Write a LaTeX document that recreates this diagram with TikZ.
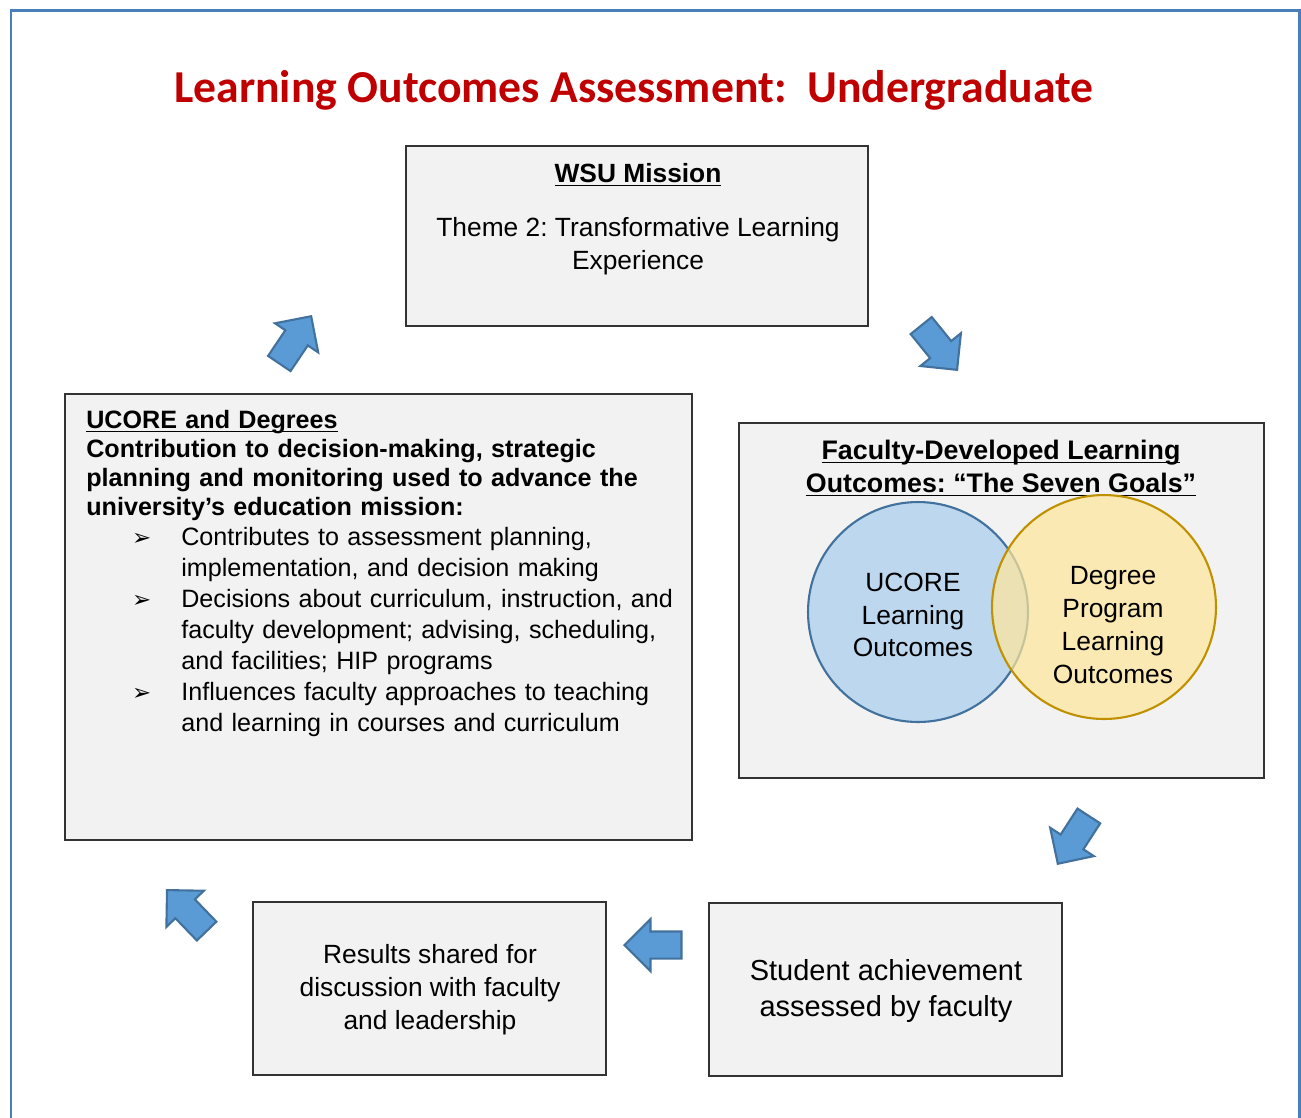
\documentclass[tikz,border=0pt]{standalone}
\usepackage{fontspec}
\setmainfont{Liberation Sans}
\newfontfamily\titlefont{Carlito}
\newfontfamily\symfont{DejaVu Sans}
\usepackage{xcolor}
\usetikzlibrary{shapes.arrows,positioning}
\frenchspacing
\definecolor{boxfill}{HTML}{F2F2F2}
\definecolor{titlered}{HTML}{C00000}
\definecolor{framecol}{HTML}{4A7EBB}
\definecolor{arrowfill}{HTML}{5B9BD5}
\definecolor{arrowline}{HTML}{41719C}
\definecolor{ucorefill}{HTML}{BDD7EE}
\definecolor{ucoreline}{HTML}{41719C}
\definecolor{degfill}{HTML}{FFE699}
\definecolor{degline}{HTML}{BF9000}
\newcommand\uln[1]{\underline{\smash{#1}}\vphantom{#1}}

\begin{document}
\begin{tikzpicture}[x=0.02cm,y=-0.02cm,
  box/.style={draw=black!80,line width=0.7pt,fill=boxfill},
  txt/.style={font=\fontsize{15}{18.7}\selectfont,align=center,inner sep=0pt},
  bigarrow/.style={single arrow,draw=arrowline,fill=arrowfill,line width=1.2pt,anchor=tip,
    minimum height=1.14cm,single arrow head extend=0.25cm,inner xsep=0pt,inner ysep=0.25cm},
  venn/.style={circle,line width=1.2pt,inner sep=0pt}]
  \useasboundingbox (0,0) rectangle (1301,1117);
  \draw[framecol,line width=0.06cm] (11,1130) |- (1299,10) -- (1299,1130);

  \node[inner sep=0pt,text=titlered,font=\titlefont\bfseries\fontsize{26}{30}\selectfont] (title) at (634,90)
    {Learning Outcomes Assessment:\ \ Undergraduate};

  % boxes
  \node[box,minimum width=9.24cm,minimum height=3.6cm] (wsu) at (637,236) {};
  \node[box,minimum width=12.54cm,minimum height=8.92cm] (ucore) at (378.5,617) {};
  \node[box,minimum width=10.5cm,minimum height=7.1cm] (goals) at (1001.5,600.5) {};
  \node[box,minimum width=7.06cm,minimum height=3.46cm] (results) at (429.5,988.5) {};
  \node[box,minimum width=7.06cm,minimum height=3.46cm] (student) at (885.5,989.5) {};

  \node[txt,font=\bfseries\fontsize{15}{18.7}\selectfont] (wsuhead) at (638,175) {\uln{WSU Mission}};
  \node[txt] (wsutext) at (638,246) {Theme 2: Transformative Learning\\Experience};

  \node[txt,anchor=north west,text width=12cm,align=left,font=\fontsize{14.3}{16.4}\selectfont] (ucoretext) at (86,410)
    {\textbf{\uln{UCORE and Degrees}}\\
     \textbf{Contribution to decision-making, strategic}\\
     \textbf{planning and monitoring used to advance the}\\
     \textbf{university’s education mission:}\par
     \fontsize{14.3}{17.6}\selectfont
     \begin{list}{\symfont\fontsize{13}{13}\selectfont ➢}{\setlength\leftmargin{1.9cm}\setlength\labelsep{0.6cm}%
       \setlength\labelwidth{1.3cm}\setlength\itemsep{0pt}\setlength\parsep{0pt}\setlength\topsep{0pt}\setlength\partopsep{0pt}}
     \item Contributes to assessment planning,\\implementation, and decision making
     \item Decisions about curriculum, instruction, and\\faculty development; advising, scheduling,\\and facilities; HIP programs
     \item Influences faculty approaches to teaching\\and learning in courses and curriculum
     \end{list}};

  \node[txt,font=\bfseries\fontsize{15.25}{18.7}\selectfont] (goalshead) at (1001,468)
    {\uln{Faculty-Developed Learning}\\\uln{Outcomes: “The Seven Goals”}};
  \node[venn,draw=ucoreline,fill=ucorefill,minimum size=4.4cm] (ucorec) at (918,612) {};
  \node[venn,draw=degline,fill=degfill,fill opacity=0.7,minimum size=4.48cm] (degc) at (1104,607) {};
  \node[txt] (ucorelabel) at (913,615) {UCORE\\Learning\\Outcomes};
  \node[txt] (deglabel) at (1113,625) {Degree\\Program\\Learning\\Outcomes};

  \node[txt] (resultstext) at (430,990) {Results shared for\\discussion with faculty\\and leadership};
  \node[txt,font=\fontsize{16.5}{20.4}\selectfont] (studenttext) at (886,991) {Student achievement\\assessed by faculty};

  % cycle arrows
  \node[bigarrow,rotate=56] (a1) at (312,315) {};
  \node[bigarrow,rotate=-51] (a2) at (958,371) {};
  \node[bigarrow,rotate=-123] (a3) at (1057,865) {};
  \node[bigarrow,rotate=180] (a4) at (623,945) {};
  \node[bigarrow,rotate=134] (a5) at (166,889) {};
\end{tikzpicture}
\end{document}
